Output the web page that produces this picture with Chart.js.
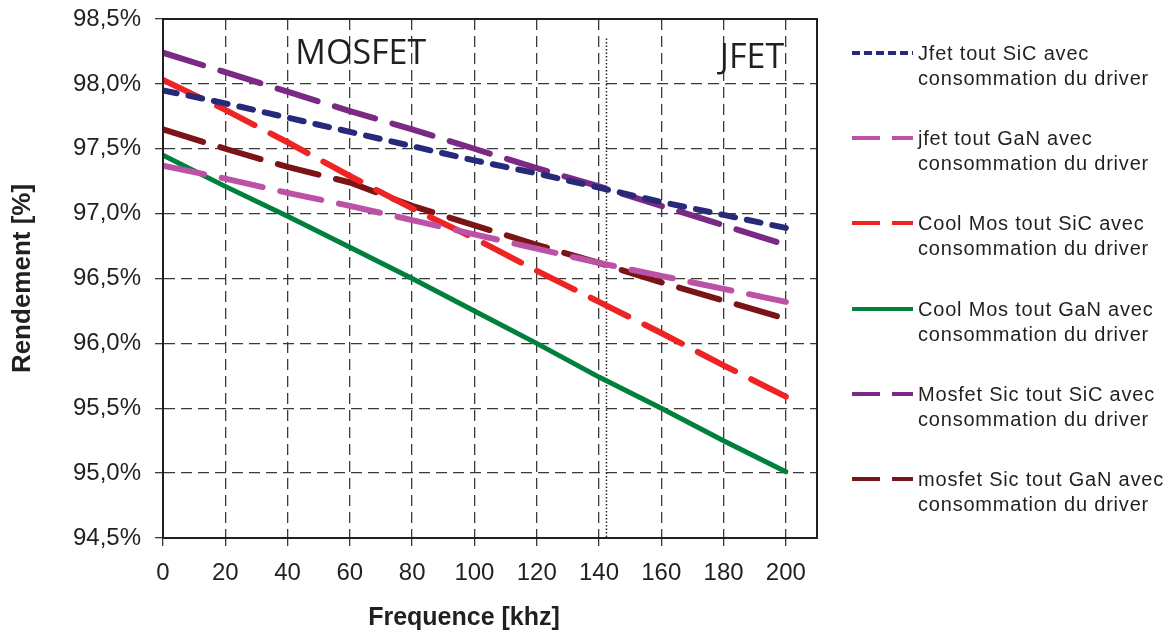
<!DOCTYPE html>
<html>
<head>
<meta charset="utf-8">
<script src="https://cdn.jsdelivr.net/npm/chart.js@4.4.1/dist/chart.umd.min.js"></script>
<style>
  html, body { margin: 0; padding: 0; background: #fff; }
  #wrap { position: relative; width: 1175px; height: 635px; }
  #legend { position: absolute; left: 852px; top: 0; font-family: "Liberation Sans", Arial, sans-serif; font-size: 20px; color: #231f20; }
  .item { position: absolute; left: 0; width: 320px; }
  .item svg { position: absolute; left: 0; }
  .item .txt { position: absolute; left: 66px; line-height: 24.5px; white-space: nowrap; letter-spacing: 0.8px; }
</style>
</head>
<body>
<div id="wrap">
  <canvas id="chart" width="1175" height="635"></canvas>
  <div id="legend"></div>
</div>
<script>
// frequencies (kHz)
const freqs = [0, 20, 40, 60, 80, 100, 120, 140, 160, 180, 200];

// efficiency values (%) for each curve
const jfetSiC    = [97.95, 97.85, 97.74, 97.63, 97.52, 97.41, 97.31, 97.20, 97.09, 96.99, 96.89];
const jfetGaN    = [97.37, 97.27, 97.16, 97.06, 96.95, 96.84, 96.73, 96.62, 96.52, 96.42, 96.32];
const coolMosSiC = [98.03, 97.80, 97.55, 97.29, 97.04, 96.81, 96.56, 96.32, 96.08, 95.83, 95.59];
const coolMosGaN = [97.45, 97.21, 96.98, 96.74, 96.50, 96.25, 96.00, 95.74, 95.50, 95.25, 95.01];
const mosfetSiC  = [98.24, 98.09, 97.94, 97.79, 97.65, 97.50, 97.35, 97.21, 97.06, 96.91, 96.76];
const mosfetGaN  = [97.65, 97.50, 97.36, 97.24, 97.06, 96.91, 96.76, 96.62, 96.47, 96.33, 96.19];

const seriesLabels = [
  ['Jfet tout SiC avec', 'consommation du driver'],
  ['jfet tout GaN avec', 'consommation du driver'],
  ['Cool Mos tout SiC avec', 'consommation du driver'],
  ['Cool Mos tout GaN avec', 'consommation du driver'],
  ['Mosfet Sic tout SiC avec', 'consommation du driver'],
  ['mosfet Sic tout GaN avec', 'consommation du driver']
];

// axis ticks
const xTickValues = [0, 20, 40, 60, 80, 100, 120, 140, 160, 180, 200];
const yTickValues = [94.5, 95.0, 95.5, 96.0, 96.5, 97.0, 97.5, 98.0, 98.5];

// MOSFET / JFET boundary
const boundaryX = [142.4, 142.4];
const boundaryY = [98.35, 94.5];

const textColor = '#231f20';
const longDash = [42, 18];
const shortDash = [14, 12];

function toPoints(values) {
  return freqs.map((f, i) => ({ x: f, y: values[i] }));
}

function makeSet(i, values, color, dash, width) {
  return {
    label: seriesLabels[i].join(' '),
    data: toPoints(values),
    borderColor: color,
    backgroundColor: color,
    borderWidth: width,
    borderDash: dash,
    borderCapStyle: 'round',
    pointRadius: 0,
    tension: 0,
    fill: false,
    legendDash: dash.length ? (dash === shortDash ? '8 4' : '28 12') : ''
  };
}

const datasets = [
  makeSet(0, jfetSiC, '#262a78', shortDash, 6),
  makeSet(1, jfetGaN, '#bb52a6', longDash, 6),
  makeSet(2, coolMosSiC, '#ee2324', longDash, 6),
  makeSet(3, coolMosGaN, '#00803c', [], 5),
  makeSet(4, mosfetSiC, '#7a2a85', longDash, 6),
  makeSet(5, mosfetGaN, '#7b1416', longDash, 6),
  {
    label: 'boundary',
    data: boundaryX.map((x, i) => ({ x: x, y: boundaryY[i] })),
    borderColor: '#231f20',
    borderWidth: 1.5,
    borderDash: [1.5, 2],
    pointRadius: 0,
    fill: false,
    isHelper: true
  }
];

// frame on top/right + region labels + x axis title
const framePlugin = {
  id: 'framePlugin',
  afterDraw(chart) {
    const ctx = chart.ctx;
    const a = chart.chartArea;
    const xs = chart.scales.x;
    const ys = chart.scales.y;
    ctx.save();
    ctx.strokeStyle = textColor;
    ctx.lineWidth = 2;
    ctx.strokeRect(a.left, a.top, a.right - a.left, a.bottom - a.top);
    ctx.fillStyle = textColor;
    ctx.font = '34px "Open Sans", sans-serif';
    ctx.textBaseline = 'alphabetic';
    ctx.textAlign = 'left';
    ctx.fillText('MOSFET', xs.getPixelForValue(42.5), ys.getPixelForValue(98.15));
    ctx.fillText('JFET', xs.getPixelForValue(178.8), ys.getPixelForValue(98.125));
    ctx.font = 'bold 25px "Liberation Sans", Arial, sans-serif';
    ctx.textAlign = 'center';
    ctx.fillText('Frequence [khz]', 464, 625);
    ctx.restore();
  }
};

const ctx = document.getElementById('chart').getContext('2d');
const myChart = new Chart(ctx, {
  type: 'line',
  data: { datasets: datasets },
  plugins: [framePlugin],
  options: {
    responsive: false,
    animation: false,
    layout: { padding: { left: 0, top: 19, right: 358, bottom: 0 } },
    plugins: {
      legend: { display: false },
      tooltip: { enabled: false }
    },
    scales: {
      x: {
        type: 'linear',
        min: 0,
        max: 210,
        afterBuildTicks: scale => { scale.ticks = xTickValues.map(v => ({ value: v })); },
        afterFit: scale => { scale.height = 97; scale.paddingLeft = 0; scale.paddingRight = 0; },
        ticks: {
          color: textColor,
          font: { family: '"Liberation Sans", Arial, sans-serif', size: 24 },
          padding: 13,
          maxRotation: 0
        },
        grid: {
          color: '#3a3a3a',
          lineWidth: 1.3,
          tickLength: 8,
          tickBorderDash: [],
          tickColor: '#3a3a3a'
        },
        border: { display: true, color: textColor, width: 2, dash: [11, 6] }
      },
      y: {
        type: 'linear',
        min: 94.5,
        max: 98.5,
        afterBuildTicks: scale => { scale.ticks = yTickValues.map(v => ({ value: v })); },
        afterFit: scale => { scale.width = 163; scale.paddingTop = 0; scale.paddingBottom = 0; },
        ticks: {
          color: textColor,
          font: { family: '"Liberation Sans", Arial, sans-serif', size: 24 },
          padding: 14,
          callback: v => v.toFixed(1).replace('.', ',') + '%'
        },
        grid: {
          color: '#3a3a3a',
          lineWidth: 1.3,
          tickLength: 8,
          tickBorderDash: [],
          tickColor: '#3a3a3a'
        },
        border: { display: true, color: textColor, width: 2, dash: [11, 6] },
        title: {
          display: true,
          text: 'Rendement [%]',
          color: textColor,
          font: { family: '"Liberation Sans", Arial, sans-serif', size: 26, weight: 'bold' },
          padding: { top: 7, bottom: 0 }
        }
      }
    }
  }
});

// HTML legend on the right, two-line labels
function buildLegend() {
  const legend = document.getElementById('legend');
  const tops = [53, 138, 223, 309, 394, 479];
  datasets.filter(d => !d.isHelper).forEach((d, i) => {
    const item = document.createElement('div');
    item.className = 'item';
    item.style.top = (tops[i] - 12) + 'px';
    const svgNS = 'http://www.w3.org/2000/svg';
    const svg = document.createElementNS(svgNS, 'svg');
    svg.setAttribute('width', '62');
    svg.setAttribute('height', '24');
    const line = document.createElementNS(svgNS, 'line');
    line.setAttribute('x1', '0');
    line.setAttribute('x2', '61');
    line.setAttribute('y1', '12');
    line.setAttribute('y2', '12');
    line.setAttribute('stroke', d.borderColor);
    line.setAttribute('stroke-width', '4');
    if (d.legendDash) line.setAttribute('stroke-dasharray', d.legendDash);
    svg.appendChild(line);
    item.appendChild(svg);
    const txt = document.createElement('div');
    txt.className = 'txt';
    txt.innerHTML = seriesLabels[i][0] + '<br>' + seriesLabels[i][1];
    item.appendChild(txt);
    legend.appendChild(item);
  });
}
buildLegend();
</script>
</body>
</html>
